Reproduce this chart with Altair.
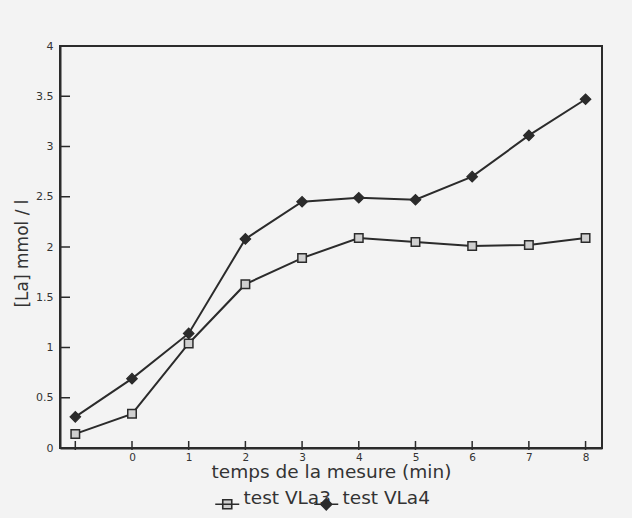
import altair as alt
import pandas as pd

# ---- data ----
times = [-1, 0, 1, 2, 3, 4, 5, 6, 7, 8]
vla3 = [0.14, 0.34, 1.04, 1.63, 1.89, 2.09, 2.05, 2.01, 2.02, 2.09]
vla4 = [0.31, 0.69, 1.14, 2.08, 2.45, 2.49, 2.47, 2.70, 3.11, 3.47]
series_names = ["test VLa3", "test VLa4"]
x_ticks = [-1, 0, 1, 2, 3, 4, 5, 6, 7, 8]
y_ticks = [0, 0.5, 1, 1.5, 2, 2.5, 3, 3.5, 4]
x_title = "temps de la mesure (min)"
y_title = "[La] mmol / l"

rows = []
for name, vals in zip(series_names, [vla3, vla4]):
    for t, v in zip(times, vals):
        rows.append({"s": name, "t": t, "v": v})
df = pd.DataFrame(rows)

INK = "#2b2b2b"
TXT = "#333333"
SQFILL = "#cfcfcf"
FONT = "DejaVu Sans"
W, H = 542, 402

xs = alt.Scale(domain=[-1.27, 8.29], nice=False, zero=False)
ys = alt.Scale(domain=[0, 4], nice=False, zero=False)

x_axis = alt.Axis(
    values=x_ticks, labelExpr="datum.value < 0 ? '' : datum.label",
    ticks=False, grid=False, domainColor=INK, domainWidth=2,
    labelFont=FONT, labelFontSize=10.5, labelColor=TXT, labelPadding=4,
    title=x_title, titleFont=FONT, titleFontSize=18.5, titleFontWeight="normal",
    titleColor=TXT, titlePadding=0,
)
y_axis = alt.Axis(
    values=y_ticks, format="~g", ticks=False, grid=False,
    domainColor=INK, domainWidth=2,
    labelFont=FONT, labelFontSize=11, labelColor=TXT, labelPadding=7,
    title=y_title, titleFont=FONT, titleFontSize=17, titleFontWeight="normal",
    titleColor=TXT, titleAngle=270, titleAlign="center", titleBaseline="bottom",
    titleX=-29, titleY=207,
)

X = alt.X("t:Q", scale=xs, axis=x_axis)
Y = alt.Y("v:Q", scale=ys, axis=y_axis)

# legend symbols: a short line through the marker (path units = px with symbolSize 4)
SQ_SYM = "M-12,6L12,6M-4.5,1.5L4.5,1.5L4.5,10.5L-4.5,10.5Z"
DI_SYM = "M-12,6L12,6M0,0.5L5.5,6L0,11.5L-5.5,6Z"


def legend_at(x):
    return alt.Legend(
        orient="none", legendX=x, legendY=443, title=None, padding=0,
        labelFont=FONT, labelFontSize=18.5, labelColor=TXT, labelOffset=7,
        symbolSize=4, symbolStrokeWidth=1.6, symbolOpacity=1,
    )


lines = alt.Chart(df).mark_line(strokeWidth=2, color=INK).encode(
    x=X, y=Y, detail="s:N",
)

sq_points = alt.Chart(df).transform_filter(
    alt.datum.s == series_names[0]
).mark_point(shape="square", filled=True, fill=SQFILL, stroke=INK,
             strokeWidth=1.5, size=72, opacity=1).encode(x=X, y=Y)

di_points = alt.Chart(df).transform_filter(
    alt.datum.s == series_names[1]
).mark_point(shape="diamond", filled=True, fill=INK, stroke=INK,
             strokeWidth=1.2, size=110, opacity=1).encode(x=X, y=Y)

# legend-only layers (no rows drawn; entries come from the scale domain)
leg1 = alt.Chart(df).transform_filter("false").mark_point(
    filled=True, fill=SQFILL, stroke=INK, strokeWidth=1.5, opacity=1
).encode(
    x=X, y=Y,
    shape=alt.Shape("s:N", scale=alt.Scale(domain=[series_names[0]], range=[SQ_SYM]),
                    legend=legend_at(158)),
)
leg2 = alt.Chart(df).transform_filter("false").mark_point(
    filled=True, fill=INK, stroke=INK, strokeWidth=1.5, opacity=1
).encode(
    x=X, y=Y,
    shape=alt.Shape("s:N", scale=alt.Scale(domain=[series_names[1]], range=[DI_SYM]),
                    legend=legend_at(257)),
)

xtick_rules = alt.Chart(pd.DataFrame({"t": x_ticks})).mark_rule(color=INK, strokeWidth=1.5).encode(
    x=X, y=alt.value(H - 7), y2=alt.value(H + 2),
)
ytick_rules = alt.Chart(pd.DataFrame({"v": y_ticks[:-1]})).mark_rule(color=INK, strokeWidth=1.5).encode(
    y=Y, x=alt.value(0), x2=alt.value(10),
)

chart = alt.layer(lines, sq_points, di_points, xtick_rules, ytick_rules, leg1, leg2).resolve_scale(
    shape="independent"
).properties(
    width=W, height=H,
    autosize=alt.AutoSizeParams(type="none"),
    padding={"left": 60, "top": 46, "right": 30, "bottom": 70},
    background="#f3f3f3",
).configure_view(stroke=INK, strokeWidth=2)

chart.save("out.html", embed_options={"renderer": "svg", "actions": False})
